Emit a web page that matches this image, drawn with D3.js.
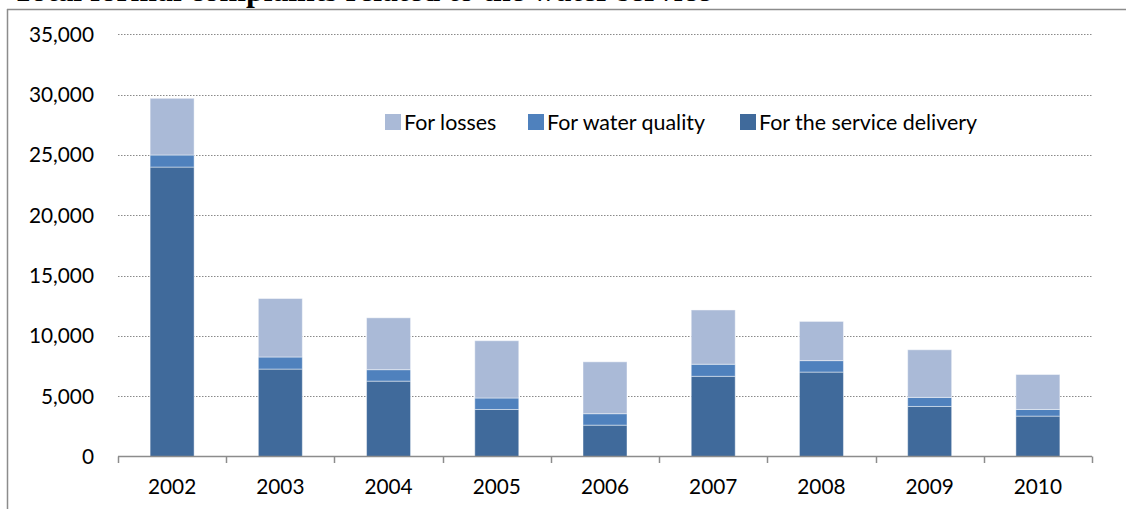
<!DOCTYPE html>
<html>
<head>
<meta charset="utf-8">
<script src="https://cdn.jsdelivr.net/npm/d3@7/dist/d3.min.js"></script>
<style>
  html, body { margin: 0; padding: 0; background: #fff; }
  svg { display: block; }
</style>
</head>
<body>
<svg id="chart" width="1126" height="509"></svg>
<script>
// ---- data ----
const years = ["2002", "2003", "2004", "2005", "2006", "2007", "2008", "2009", "2010"];
const serviceDelivery = [24000, 7250, 6250, 3900, 2600, 6650, 7000, 4150, 3350];
const waterQuality    = [1000, 1000, 950, 950, 950, 1000, 950, 750, 550];
const losses          = [4700, 4850, 4300, 4750, 4300, 4500, 3250, 3950, 2900];
const yTicks = [0, 5000, 10000, 15000, 20000, 25000, 30000, 35000];
const seriesNames = ["For losses", "For water quality", "For the service delivery"];
const titleText = "Total formal complaints related to the water service";

const colors = {
  "For the service delivery": "#406A9B",
  "For water quality": "#4F81BD",
  "For losses": "#AABAD7"
};
const FONT = "Lato, 'Open Sans', sans-serif";
const AXIS_FS = 20.8;
const LEGEND_FS = 21.4;

const svg = d3.select("#chart");
const W = 1126, H = 509;

// frame
svg.append("line").attr("x1", 7).attr("x2", W).attr("y1", 9.5).attr("y2", 9.5)
  .attr("stroke", "#8c8c8c").attr("stroke-width", 1.5);
svg.append("line").attr("x1", 7.5).attr("x2", 7.5).attr("y1", 9).attr("y2", H)
  .attr("stroke", "#8c8c8c").attr("stroke-width", 1.5);

// title (cut off at the top, as in the reference)
const title = svg.append("text")
  .attr("font-family", "'Liberation Serif', 'Times New Roman', serif")
  .attr("font-weight", "bold")
  .attr("font-size", 100)
  .attr("y", 1)
  .text(titleText);
{
  const node = title.node();
  const pIdx = titleText.indexOf("plaints");
  const full = node.getComputedTextLength();
  const before = node.getSubStringLength(0, pIdx);
  const fs = 100 * 465 / (full - before);
  title.attr("font-size", fs);
  const before2 = node.getSubStringLength(0, pIdx);
  title.attr("x", 246 - before2);
}

// scales
const x0 = 118, x1 = 1092;
const x = d3.scaleBand().domain(years).range([x0, x1]).paddingInner(0).paddingOuter(0);
const y = d3.scaleLinear().domain([0, 35000]).range([456.5, 34.4]);
const barW = 44;

// gridlines
svg.append("g").selectAll("line").data(yTicks.filter(d => d > 0)).join("line")
  .attr("x1", x0).attr("x2", x1)
  .attr("y1", d => Math.round(y(d)) + 0.5).attr("y2", d => Math.round(y(d)) + 0.5)
  .attr("stroke", "#8a8a8a").attr("stroke-width", 1)
  .attr("stroke-dasharray", "1.5,1.5");

// y labels
svg.append("g").selectAll("text").data(yTicks).join("text")
  .attr("x", 94).attr("y", d => y(d))
  .attr("dy", "0.36em")
  .attr("text-anchor", "end")
  .attr("font-family", FONT).attr("font-size", AXIS_FS).attr("fill", "#000")
  .text(d => d3.format(",")(d));

// stacked bars
const table = years.map((yr, i) => ({
  year: yr,
  "For the service delivery": serviceDelivery[i],
  "For water quality": waterQuality[i],
  "For losses": losses[i]
}));
const stack = d3.stack().keys(["For the service delivery", "For water quality", "For losses"]);
const stacked = stack(table);

svg.append("g").selectAll("g").data(stacked).join("g")
  .attr("fill", d => colors[d.key])
  .selectAll("rect").data(d => d).join("rect")
  .attr("x", d => x(d.data.year) + (x.bandwidth() - barW) / 2)
  .attr("width", barW)
  .attr("y", d => y(d[1]))
  .attr("height", d => y(d[0]) - y(d[1]))
  .attr("stroke", "#ffffff").attr("stroke-opacity", 0.45).attr("stroke-width", 1);

// x axis baseline + ticks
const axisG = svg.append("g").attr("transform", `translate(0,${y(0)})`);
axisG.append("line").attr("x1", x0).attr("x2", x1).attr("y1", 0).attr("y2", 0)
  .attr("stroke", "#8c8c8c").attr("stroke-width", 1.5);
const boundaries = years.map(d => x(d)).concat([x1]);
axisG.selectAll("line.tick").data(boundaries).join("line").attr("class", "tick")
  .attr("x1", d => Math.round(d) + 0.5).attr("x2", d => Math.round(d) + 0.5)
  .attr("y1", 0).attr("y2", 6.5)
  .attr("stroke", "#8c8c8c").attr("stroke-width", 1.5);
axisG.selectAll("text").data(years).join("text")
  .attr("x", d => x(d) + x.bandwidth() / 2)
  .attr("y", 30.5)
  .attr("dy", "0.36em")
  .attr("text-anchor", "middle")
  .attr("font-family", FONT).attr("font-size", AXIS_FS).attr("fill", "#000")
  .text(d => d);

// legend
const legendX = [385, 528, 740];
const legend = svg.append("g");
seriesNames.forEach((name, i) => {
  legend.append("rect").attr("x", legendX[i]).attr("y", 114).attr("width", 16).attr("height", 16)
    .attr("fill", colors[name]);
  legend.append("text").attr("x", legendX[i] + 19).attr("y", 122).attr("dy", "0.36em")
    .attr("font-family", FONT).attr("font-size", LEGEND_FS).attr("fill", "#000")
    .text(name);
});
</script>
</body>
</html>
